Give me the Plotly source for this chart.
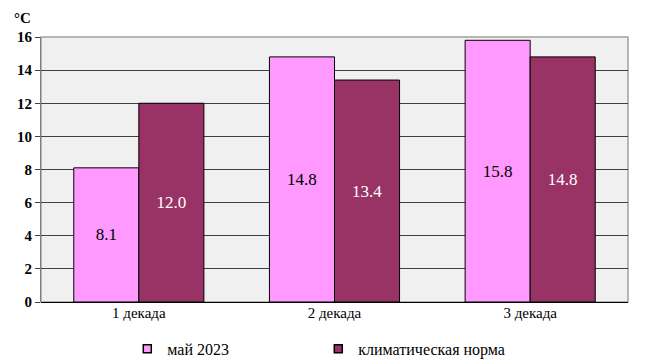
import plotly.graph_objects as go

categories = ["1 декада", "2 декада", "3 декада"]
may_2023 = [8.1, 14.8, 15.8]
norm = [12.0, 13.4, 14.8]
series_names = ["май 2023", "климатическая норма"]
series_colors = ["#FF99FF", "#993366"]
y_ticks = [0, 2, 4, 6, 8, 10, 12, 14, 16]

FONT = "Times New Roman, Liberation Serif, serif"

fig = go.Figure()
for vals, name, color, tcolor in [(may_2023, series_names[0], series_colors[0], "#000000"),
                                  (norm, series_names[1], series_colors[1], "#FFFFFF")]:
    fig.add_trace(go.Bar(
        x=categories, y=vals, name=name, showlegend=False,
        marker=dict(color=color, line=dict(color="#000000", width=1)),
        text=[f"{v:.1f}" for v in vals], textposition="inside",
        insidetextanchor="middle", textangle=0,
        insidetextfont=dict(family=FONT, size=17, color=tcolor),
        textfont=dict(family=FONT, size=17, color=tcolor),
    ))
# legend entries as small squares
for name, color in zip(series_names, series_colors):
    fig.add_trace(go.Scatter(
        x=[None], y=[None], mode="markers", name=name,
        marker=dict(symbol="square", size=8, color=color, line=dict(color="#000000", width=1.5)),
    ))

# page body has an 8px offset, so the figure is 8px smaller and margins shifted
fig.update_layout(
    width=641, height=353,
    margin=dict(l=33, r=21, t=29, b=59, autoexpand=False),
    paper_bgcolor="#FFFFFF",
    plot_bgcolor="#F0F0F0",
    barmode="group", bargap=0.335, bargroupgap=0,
    font=dict(family=FONT, size=15, color="#000000"),
    showlegend=True,
    legend=dict(orientation="h", x=0.147, xanchor="left", y=-0.177, yanchor="middle",
                font=dict(family=FONT, size=16), itemwidth=30,
                traceorder="normal", entrywidth=146, bgcolor="rgba(0,0,0,0)"),
    xaxis=dict(showgrid=False, showline=False, ticks="", tickfont=dict(family=FONT, size=15)),
    yaxis=dict(range=[0, 16], tickvals=y_ticks, showgrid=True, gridcolor="#404040", gridwidth=1,
               showline=True, linecolor="#808080", linewidth=1, ticks="outside", ticklen=5,
               tickcolor="#404040", zeroline=True, zerolinecolor="#000000", zerolinewidth=1,
               tickfont=dict(family=FONT, size=15, color="#000000", weight="bold")),
    annotations=[dict(text="<b>°C</b>", x=0, y=1.0, xref="paper", yref="paper",
                      xshift=-29, yshift=29, showarrow=False, xanchor="left", yanchor="top",
                      font=dict(family=FONT, size=15))],
    shapes=[dict(type="rect", xref="paper", yref="paper", x0=0, x1=1, y0=0, y1=1,
                 line=dict(color="#A0A0A0", width=1.5), layer="below")],
)

fig.write_html("out.html")
